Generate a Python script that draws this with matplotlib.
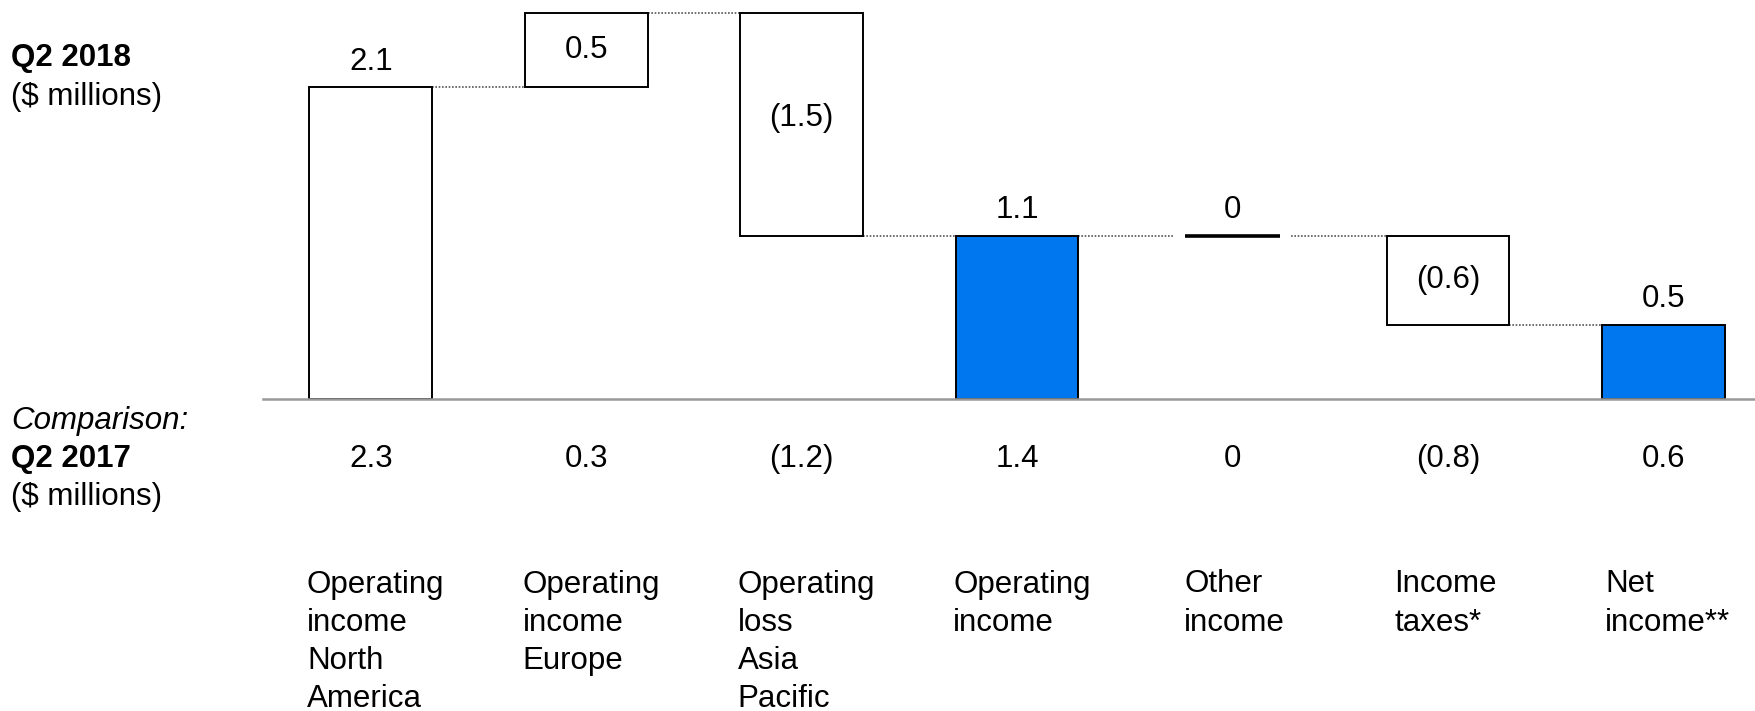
import matplotlib
matplotlib.use("Agg")
import matplotlib.pyplot as plt
import matplotlib.transforms as mtransforms
from matplotlib.patches import Rectangle

plt.rcParams['font.family'] = ['Liberation Sans', 'DejaVu Sans']

# Waterfall data, Q2 2018 ($ millions)
categories = ["Operating\nincome\nNorth\nAmerica", "Operating\nincome\nEurope",
              "Operating\nloss\nAsia\nPacific", "Operating\nincome", "Other\nincome",
              "Income\ntaxes*", "Net\nincome**"]
values_2018 = [2.1, 0.5, -1.5, 1.1, 0.0, -0.6, 0.5]
is_total = [False, False, False, True, False, False, True]
labels_2018 = ["2.1", "0.5", "(1.5)", "1.1", "0", "(0.6)", "0.5"]
labels_2017 = ["2.3", "0.3", "(1.2)", "1.4", "0", "(0.8)", "0.6"]

# left edge of each category caption, relative to the bar centre
caption_offsets = [-0.296, -0.294, -0.296, -0.296, -0.224, -0.25, -0.27]

W, H = 1756, 711
fig = plt.figure(figsize=(W / 100, H / 100), dpi=100)

base_px = 312.3            # baseline height from figure bottom (px)
unit_px = 148.3            # px per $1M
ymax = 2.65
ax = fig.add_axes([263 / W, base_px / H, 1 - 263 / W, ymax * unit_px / H])
ax.set_xlim(-0.5, 6.43)
ax.set_ylim(0, ymax)
ax.axis("off")

blue = "#0077EE"
bw = 0.57
fs = 22.5

# compute bar spans
spans = []
level = 0.0
for v, tot in zip(values_2018, is_total):
    if tot:
        lo, hi = 0.0, v
        level = v
    else:
        start = level
        level = level + v
        lo, hi = min(start, level), max(start, level)
    spans.append((lo, hi))

for i, ((lo, hi), tot, v) in enumerate(zip(spans, is_total, values_2018)):
    if v == 0:
        ax.plot([i - 0.22, i + 0.22], [hi, hi], color="black", lw=2.6,
                solid_capstyle="butt", zorder=3)
        ax.text(i, hi + 0.17, labels_2018[i], ha="center", va="center", fontsize=fs)
        continue
    ax.add_patch(Rectangle((i - bw / 2, lo), bw, hi - lo,
                           facecolor=blue if tot else "white",
                           edgecolor="black", lw=1.4, zorder=3))
    if tot or (v > 0 and hi - lo > 1.0):
        ax.text(i, hi + 0.17, labels_2018[i], ha="center", va="center", fontsize=fs)
    else:
        off = 0.04 if hi - lo > 1.0 else 0.0
        ax.text(i, (lo + hi) / 2 + off, labels_2018[i], ha="center", va="center", fontsize=fs)

# dotted connectors
level = 0.0
for i, (v, tot) in enumerate(zip(values_2018, is_total)):
    level = v if tot else level + v
    if i == len(values_2018) - 1:
        break
    x0 = i + bw / 2
    x1 = i + 1 - bw / 2
    if values_2018[i] == 0:
        x0 = i + 0.22 + 0.05
    if values_2018[i + 1] == 0:
        x1 = i + 1 - 0.22 - 0.05
    ax.plot([x0, x1], [level, level], color="#555555", lw=1.2,
            linestyle=(0, (1, 1)), zorder=2)

# baseline
ax.plot([-0.5, 6.43], [0, 0], color="#999999", lw=1.8, zorder=4, clip_on=False)

def fy(px_from_top):
    return 1 - px_from_top / H

blend = mtransforms.blended_transform_factory(ax.transData, fig.transFigure)

# comparison values and category captions
for i in range(len(categories)):
    ax.text(i, fy(459), labels_2017[i], transform=blend, ha="center", va="center", fontsize=fs)
    ax.text(i + caption_offsets[i], fy(569.5), categories[i], transform=blend, ha="left", va="top",
            fontsize=fs, linespacing=1.355)

# side titles
fig.text(11 / W, fy(58), "Q2 2018", fontsize=fs, fontweight="bold", va="center")
fig.text(11 / W, fy(97.5), "($ millions)", fontsize=fs, va="center")
fig.text(11 / W, fy(421), "Comparison:", fontsize=fs, style="italic", va="center")
fig.text(11 / W, fy(459), "Q2 2017", fontsize=fs, fontweight="bold", va="center")
fig.text(11 / W, fy(497), "($ millions)", fontsize=fs, va="center")

fig.savefig("out.png", dpi=100, facecolor="white")
